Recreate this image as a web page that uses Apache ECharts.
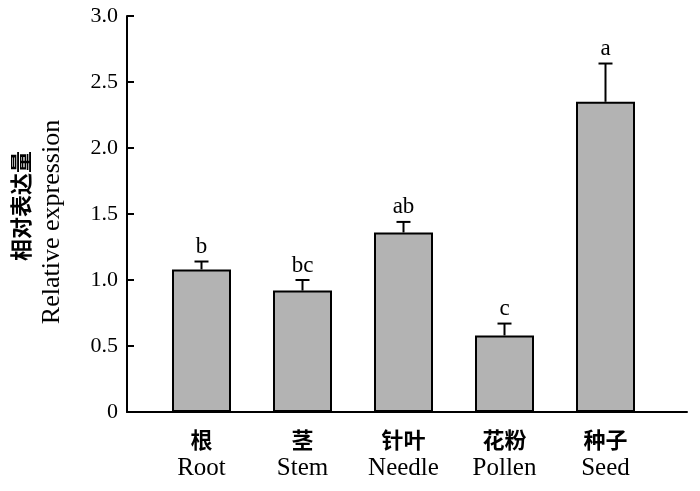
<!DOCTYPE html>
<html><head><meta charset="utf-8">
<script src="https://cdn.jsdelivr.net/npm/echarts@6/dist/echarts.min.js"></script>
<style>html,body{margin:0;padding:0;background:#fff}#c{width:700px;height:491px}</style>
</head><body><div id="c"></div>
<script>
const categoriesZh = ['根', '茎', '针叶', '花粉', '种子'];
const categoriesEn = ['Root', 'Stem', 'Needle', 'Pollen', 'Seed'];
const values = [1.08, 0.92, 1.36, 0.58, 2.35];
const errors = [0.06, 0.08, 0.08, 0.09, 0.29];
const letters = ['b', 'bc', 'ab', 'c', 'a'];

const serif = '"Liberation Serif","DejaVu Serif",serif';
const cjk = '"Noto Sans CJK SC",sans-serif';

const chart = echarts.init(document.getElementById('c'), null, {renderer: 'canvas'});
chart.setOption({
  animation: false,
  grid: [
    {left: 151, right: 44, top: 16, bottom: 79, outerBoundsMode: 'none', containLabel: false},
    {left: 127, right: 13, top: 16, bottom: 79, outerBoundsMode: 'none', containLabel: false}
  ],
  xAxis: [
    {
      type: 'category', gridIndex: 0,
      data: categoriesZh.map((z, i) => z + '\n' + categoriesEn[i]),
      axisLine: {show: false}, axisTick: {show: false},
      axisLabel: {
        margin: 13, interval: 0,
        formatter: (v) => { const p = v.split('\n'); return '{zh|' + p[0] + '}\n{en|' + p[1] + '}'; },
        rich: {
          zh: {fontFamily: cjk, fontSize: 22, fontWeight: 'bold', color: '#000', lineHeight: 30},
          en: {fontFamily: serif, fontSize: 25, color: '#000', lineHeight: 27}
        }
      }
    },
    {
      type: 'value', gridIndex: 1, min: 0, max: 1,
      axisLine: {show: true, lineStyle: {color: '#000', width: 2}},
      axisTick: {show: false}, axisLabel: {show: false}, splitLine: {show: false}
    }
  ],
  yAxis: [
    {
      type: 'value', gridIndex: 0, min: 0, max: 3, interval: 0.5, offset: 24,
      name: '{zh|相对表达量}\n{en|Relative expression}',
      nameLocation: 'middle', nameGap: 60, nameRotate: 90,
      nameTextStyle: {
        rich: {
          zh: {fontFamily: cjk, fontSize: 22, fontWeight: 'bold', color: '#000', lineHeight: 32, align: 'center', padding: [0, 0, 0, 16]},
          en: {fontFamily: serif, fontSize: 26, color: '#000', lineHeight: 30, align: 'center', padding: [0, 16, 0, 0]}
        }
      },
      axisLine: {show: true, lineStyle: {color: '#000', width: 2}},
      axisTick: {show: true, inside: true, length: 7, lineStyle: {color: '#000', width: 2}},
      axisLabel: {
        margin: 9, fontFamily: serif, fontSize: 22, color: '#000',
        formatter: (v) => v === 0 ? '0' : v.toFixed(1)
      },
      splitLine: {show: false}
    },
    {type: 'value', gridIndex: 1, show: false, min: 0, max: 1}
  ],
  series: [
    {
      type: 'bar', xAxisIndex: 0, yAxisIndex: 0,
      data: values, barWidth: 59,
      itemStyle: {color: '#b3b3b3', borderColor: '#000', borderWidth: 2}
    },
    {
      type: 'custom', xAxisIndex: 0, yAxisIndex: 0,
      data: values.map((v, i) => [i, v, v + errors[i]]),
      renderItem: (params, api) => {
        const base = api.coord([api.value(0), api.value(1)]);
        const top = api.coord([api.value(0), api.value(2)]);
        const half = 7;
        const style = {stroke: '#000', lineWidth: 2};
        return {
          type: 'group',
          children: [
            {type: 'line', shape: {x1: base[0], y1: base[1], x2: top[0], y2: top[1]}, style},
            {type: 'line', shape: {x1: top[0] - half, y1: top[1], x2: top[0] + half, y2: top[1]}, style},
            {type: 'text', style: {
              text: letters[params.dataIndex], x: top[0], y: top[1] - 3,
              textAlign: 'center', textVerticalAlign: 'bottom',
              font: '23px ' + serif, fill: '#000'
            }}
          ]
        };
      }
    }
  ]
});
</script>
</body></html>
